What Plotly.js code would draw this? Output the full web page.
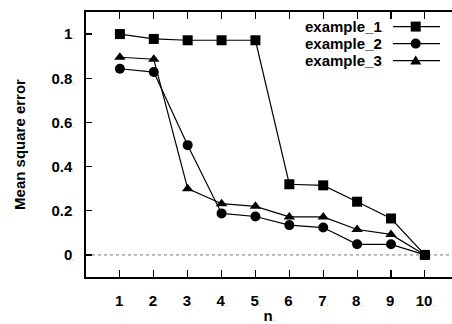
<!DOCTYPE html>
<html>
<head>
<meta charset="utf-8">
<script src="https://cdn.plot.ly/plotly-3.0.1.min.js"></script>
<style>html,body{margin:0;padding:0;background:#fff;}#chart{width:452px;height:324px;}</style>
</head>
<body>
<div id="chart"></div>
<script>
// ---- data ----
const nValues = [1, 2, 3, 4, 5, 6, 7, 8, 9, 10];
const example1 = [1.000, 0.978, 0.972, 0.972, 0.972, 0.320, 0.315, 0.241, 0.165, 0.000];
const example2 = [0.843, 0.828, 0.497, 0.188, 0.174, 0.135, 0.124, 0.048, 0.048, 0.000];
const example3 = [0.895, 0.886, 0.300, 0.232, 0.220, 0.172, 0.172, 0.115, 0.093, 0.000];
const seriesNames = ['example_1', 'example_2', 'example_3'];
const xTickLabels = ['1', '2', '3', '4', '5', '6', '7', '8', '9', '10'];
const yTickValues = [0, 0.2, 0.4, 0.6, 0.8, 1];
const yTickLabels = ['0', '0.2', '0.4', '0.6', '0.8', '1'];

const FONT = 'Liberation Sans, Arial, sans-serif';
const FS = 15;
const dot = "<span style='font-size:6px;color:#999'>.</span>";

const symbols = ['square', 'circle', 'triangle-up'];
const sizes = [10, 10, 10];
const seriesData = [example1, example2, example3];

const traces = seriesData.map((ys, i) => ({
  x: nValues, y: ys, name: seriesNames[i], type: 'scatter', mode: 'lines+markers',
  line: {color: '#000', width: 1.2},
  marker: {symbol: symbols[i], size: sizes[i], color: '#000'},
  showlegend: false, cliponaxis: false
}));

// legend drawn in pixels relative to top-right corner of plot area
const rowGap = 17;
const midRow = 31.6;
const rowOffsets = [midRow - rowGap, midRow, midRow + rowGap];
const shapes = [{
  type: 'line', xref: 'paper', x0: 0, x1: 1, yref: 'y', y0: 0, y1: 0,
  line: {color: '#777', width: 1, dash: 'dot'}, layer: 'below'
}];
const legendText = seriesNames.map(nm => "<span style='font-size:" + FS + "px'>" + nm + "</span>" + dot).join('<br>');
const annotations = [{
  xref: 'paper', yref: 'paper', x: 1, y: 1, xanchor: 'right', yanchor: 'middle', align: 'right',
  xshift: -67, yshift: -midRow, text: legendText, showarrow: false, borderpad: 0,
  font: {family: FONT, size: rowGap / 1.3, color: '#000', weight: 700}
}];
seriesNames.forEach((nm, i) => {
  const yo = -rowOffsets[i];
  shapes.push({
    type: 'line', xref: 'paper', yref: 'paper', xsizemode: 'pixel', ysizemode: 'pixel',
    xanchor: 1, yanchor: 1, x0: -59, x1: -12, y0: yo, y1: yo,
    line: {color: '#000', width: 1.2}
  });
  const cx = -36.3;
  if (symbols[i] === 'square') {
    shapes.push({type: 'rect', xref: 'paper', yref: 'paper', xsizemode: 'pixel', ysizemode: 'pixel',
      xanchor: 1, yanchor: 1, x0: cx - 5, x1: cx + 5, y0: yo - 5, y1: yo + 5,
      fillcolor: '#000', line: {width: 0}});
  } else if (symbols[i] === 'circle') {
    shapes.push({type: 'circle', xref: 'paper', yref: 'paper', xsizemode: 'pixel', ysizemode: 'pixel',
      xanchor: 1, yanchor: 1, x0: cx - 5, x1: cx + 5, y0: yo - 5, y1: yo + 5,
      fillcolor: '#000', line: {width: 0}});
  } else {
    shapes.push({type: 'path', xref: 'paper', yref: 'paper', xsizemode: 'pixel', ysizemode: 'pixel',
      xanchor: 1, yanchor: 1,
      path: 'M' + (cx - 5.5) + ',' + (yo - 4) + ' L' + (cx + 5.5) + ',' + (yo - 4) + ' L' + cx + ',' + (yo + 5) + ' Z',
      fillcolor: '#000', line: {width: 0}});
  }
});

const layout = {
  width: 452, height: 324,
  margin: {l: 86, r: 0, t: 12, b: 47, pad: 0},
  paper_bgcolor: '#fff', plot_bgcolor: '#fff',
  font: {family: FONT, size: FS, color: '#000', weight: 700},
  showlegend: false,
  xaxis: {
    range: [0, 10.8], tickmode: 'array', tickvals: nValues,
    ticktext: xTickLabels.map(t => t + dot),
    ticks: 'inside', ticklen: 7, tickwidth: 1.2, tickcolor: '#000',
    showline: true, linecolor: '#000', linewidth: 2, mirror: 'allticks',
    showgrid: false, zeroline: false, ticklabelstandoff: 9,
    tickfont: {family: FONT, size: FS, color: '#000', weight: 700},
    title: {text: 'n' + dot, font: {family: FONT, size: FS, color: '#000', weight: 700}, standoff: 6}
  },
  yaxis: {
    range: [-0.1, 1.1], tickmode: 'array', tickvals: yTickValues,
    ticktext: yTickLabels.map(t => t + dot),
    ticks: 'inside', ticklen: 6, tickwidth: 1.2, tickcolor: '#000',
    showline: true, linecolor: '#000', linewidth: 2, mirror: false,
    showgrid: false, zeroline: false, ticklabelstandoff: 7,
    tickfont: {family: FONT, size: FS, color: '#000', weight: 700},
    title: {text: 'Mean square error', font: {family: FONT, size: FS, color: '#000', weight: 700}, standoff: 22}
  },
  annotations: annotations,
  shapes: shapes
};

Plotly.newPlot('chart', traces, layout, {staticPlot: true, displayModeBar: false});
</script>
</body>
</html>
